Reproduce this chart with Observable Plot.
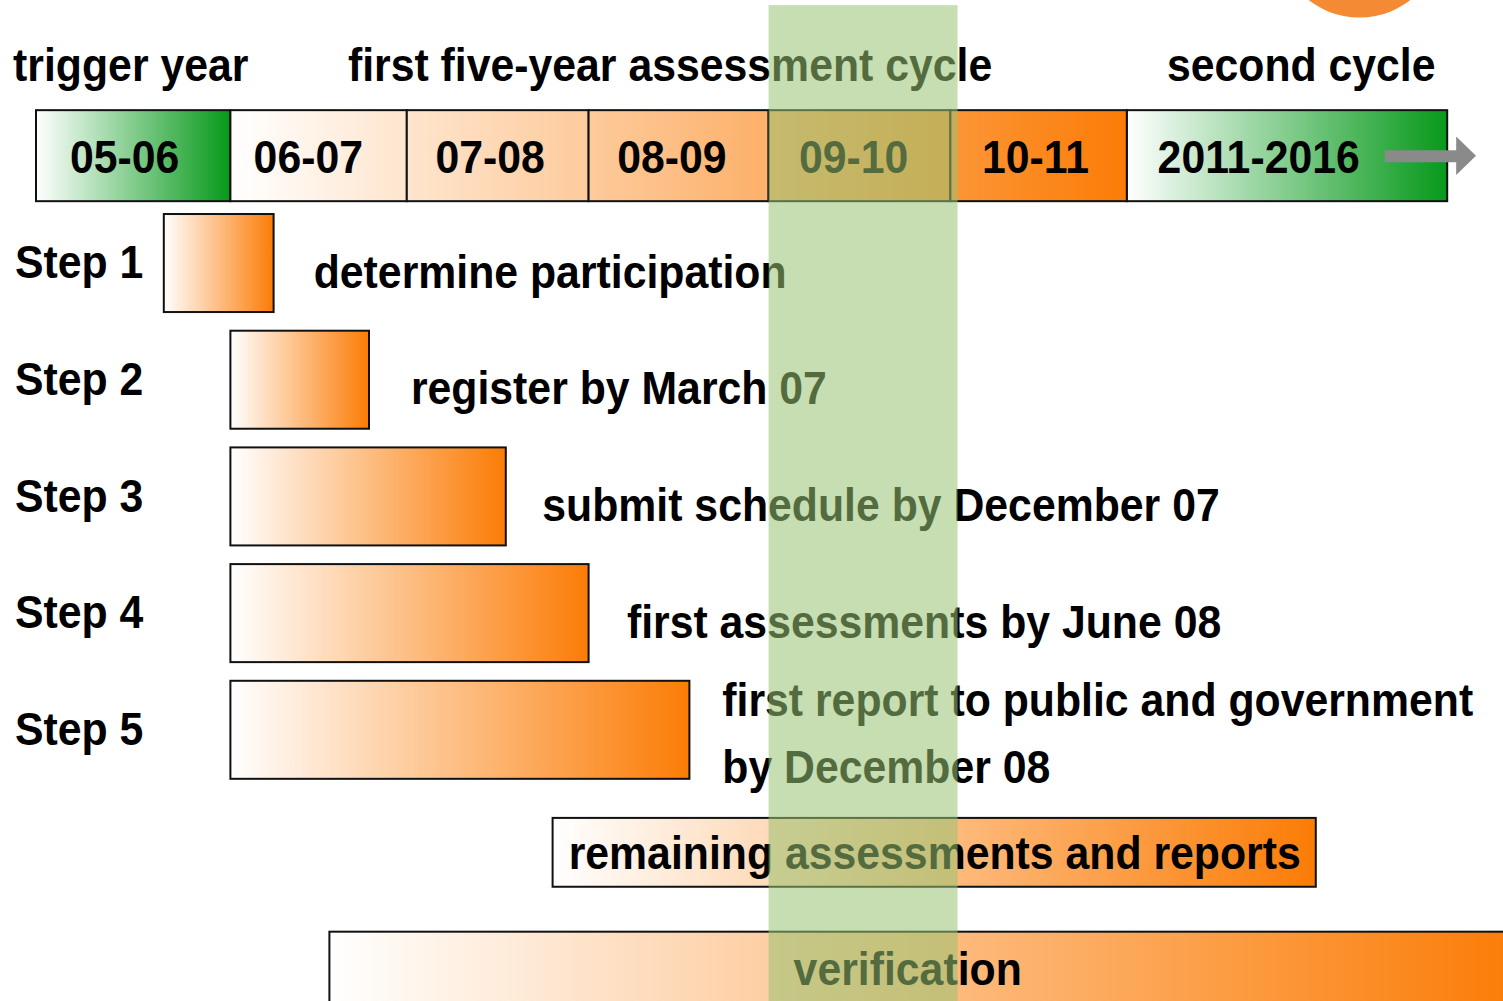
<!DOCTYPE html>
<html>
<head>
<meta charset="utf-8">
<script src="https://cdn.jsdelivr.net/npm/d3@7"></script>
<script src="https://cdn.jsdelivr.net/npm/@observablehq/plot@0.6"></script>
<style>
  html, body { margin: 0; padding: 0; background: #fff; overflow: hidden; }
  #chart svg { display: block; }
</style>
</head>
<body>
<div id="chart"></div>
<script>
// ---------- data (time in fractional years, rows in row units) ----------
const periods       = ["05-06", "06-07", "07-08", "08-09", "09-10", "10-11", "2011-2016"];
const periodStart   = [2005.00, 2006.08, 2007.06, 2008.07, 2009.07, 2010.08, 2011.06];
const periodEnd     = [2006.08, 2007.06, 2008.07, 2009.07, 2010.08, 2011.06, 2012.84];
const periodLabelAt = [2005.49, 2006.51, 2007.52, 2008.53, 2009.54, 2010.55, 2011.79];
const periodKind    = ["trigger", "cycle", "cycle", "cycle", "cycle", "cycle", "second"];

const cycleTitles  = ["trigger year", "first five-year assessment cycle", "second cycle"];
const cycleTitleAt = [2004.87, 2006.73, 2011.28];

const steps      = ["Step 1", "Step 2", "Step 3", "Step 4", "Step 5"];
const stepStart  = [2005.71, 2006.08, 2006.08, 2006.08, 2006.08];
const stepEnd    = [2006.32, 2006.85, 2007.61, 2008.07, 2008.63];
const stepTasks  = [
  "determine participation",
  "register by March 07",
  "submit schedule by December 07",
  "first assessments by June 08",
  "first report to public and government\nby December 08"
];
const taskAt     = [2006.54, 2007.08, 2007.81, 2008.28, 2008.81];

const ongoing      = ["remaining assessments and reports", "verification"];
const ongoingStart = [2007.87, 2006.63];
const ongoingEnd   = [2012.11, 2013.25];

const currentYear = [2009.07, 2010.12];   // highlighted band (09-10)
const nextArrow   = [2012.49, 2012.89, 2013.00]; // shaft start, head start, tip

// ---------- layout rows (row units) ----------
const ROW = {title: -0.69, period: 0.08, ongoing: [6.05, 7.12], ongoingText: [6.06, 7.06], band: [-1.21, 7.5], sun: -1.81};

const periodData = periods.map((p, i) => ({label: p, x1: periodStart[i], x2: periodEnd[i], at: periodLabelAt[i], kind: periodKind[i]}));
const titleData  = cycleTitles.map((t, i) => ({label: t, x: cycleTitleAt[i]}));
const stepData   = steps.map((s, i) => ({label: s, row: i + 1, x1: stepStart[i], x2: stepEnd[i], task: stepTasks[i], at: taskAt[i]}));
const ongoingData = ongoing.map((o, i) => ({label: o, row: ROW.ongoing[i], textRow: ROW.ongoingText[i], x1: ongoingStart[i], x2: ongoingEnd[i], half: i === 0 ? 0.295 : 0.39}));

const FONT = "'Liberation Sans', Arial, Helvetica, sans-serif";
const FS = 46;

const chart = Plot.plot({
  width: 1503,
  height: 1001,
  margin: 0,
  style: {background: "white", fontFamily: FONT},
  x: {domain: [2004.8, 2013.15], range: [0, 1503], axis: null},
  y: {domain: [-1.254, 7.324], range: [0, 1001], axis: null},
  marks: [
    // sun
    Plot.dot([0], {x: () => 2012.35, y: () => ROW.sun, r: 82, fill: "#f58a35", stroke: "none"}),
    // period row
    Plot.rect(periodData.filter(d => d.kind !== "cycle"), {x1: "x1", x2: "x2", y1: ROW.period - 0.39, y2: ROW.period + 0.39, fill: "url(#gGreen)", stroke: "#111", strokeWidth: 2}),
    Plot.rect(periodData.filter(d => d.kind === "cycle"), {x1: "x1", x2: "x2", y1: ROW.period - 0.39, y2: ROW.period + 0.39, fill: "url(#gCycle)", stroke: "#111", strokeWidth: 2}),
    // steps
    Plot.rect(stepData, {x1: "x1", x2: "x2", y1: d => d.row - 0.42, y2: d => d.row + 0.42, fill: "url(#gOrange)", stroke: "#111", strokeWidth: 2}),
    // ongoing
    Plot.rect(ongoingData, {x1: "x1", x2: "x2", y1: d => d.row - d.half, y2: d => d.row + d.half, fill: "url(#gOrange)", stroke: "#111", strokeWidth: 2}),
    // arrow
    Plot.link([0], {x1: () => nextArrow[0], x2: () => nextArrow[1] + 0.01, y1: () => ROW.period, y2: () => ROW.period, stroke: "#8a8a8a", strokeWidth: 12, strokeLinecap: "butt"}),
    Plot.areaY([{x: nextArrow[1], lo: ROW.period - 0.165, hi: ROW.period + 0.165}, {x: nextArrow[2], lo: ROW.period, hi: ROW.period}],
      {x: "x", y1: "lo", y2: "hi", fill: "#8a8a8a"}),
    // texts
    Plot.text(titleData, {x: "x", y: () => ROW.title, text: "label", textAnchor: "start", fontSize: FS, fontWeight: "bold", fill: "#000"}),
    Plot.text(periodData, {x: "at", y: () => ROW.period + 0.02, text: "label", textAnchor: "middle", fontSize: FS, fontWeight: "bold", fill: "#000"}),
    Plot.text(stepData, {x: () => 2004.88, y: "row", text: "label", textAnchor: "start", fontSize: FS, fontWeight: "bold", fill: "#000"}),
    Plot.text(stepData, {x: "at", y: d => d.row + (d.task.includes("\n") ? -0.02 : 0.025), text: "task", textAnchor: "start", lineHeight: 1.45, fontSize: FS, fontWeight: "bold", fill: "#000"}),
    Plot.text(ongoingData, {x: d => d.label === "verification" ? 2009.84 : (d.x1 + d.x2) / 2, y: "textRow", text: "label", textAnchor: "middle", fontSize: FS, fontWeight: "bold", fill: "#000"}),
    // highlight band
    Plot.rect([0], {x1: () => currentYear[0], x2: () => currentYear[1], y1: () => ROW.band[0], y2: () => ROW.band[1], fill: "#97c373", fillOpacity: 0.55})
  ]
});

// gradients
const xs = chart.scale("x");
const sel = d3.select(chart);
const defs = sel.insert("defs", ":first-child");
function grad(id, from, to, user) {
  const g = defs.append("linearGradient").attr("id", id);
  if (user) {
    g.attr("gradientUnits", "userSpaceOnUse").attr("x1", user[0]).attr("x2", user[1]).attr("y1", 0).attr("y2", 0);
  } else {
    g.attr("x1", 0).attr("x2", 1).attr("y1", 0).attr("y2", 0);
  }
  g.append("stop").attr("offset", 0).attr("stop-color", from);
  g.append("stop").attr("offset", 1).attr("stop-color", to);
}
grad("gGreen", "#ffffff", "#07991b");
grad("gOrange", "#ffffff", "#fb7c06");
grad("gCycle", "#ffffff", "#fb7c06", [xs.apply(periodStart[1]), xs.apply(periodEnd[5])]);

// condense lettering horizontally
sel.selectAll("text").each(function () {
  const t = this.getAttribute("transform");
  if (t) {
    this.setAttribute("transform", t + " scale(0.93,1)");
  } else {
    const x = +this.getAttribute("x") || 0, y = +this.getAttribute("y") || 0;
    this.removeAttribute("x"); this.removeAttribute("y");
    this.setAttribute("transform", `translate(${x},${y}) scale(0.93,1)`);
  }
});

document.getElementById("chart").appendChild(chart);
</script>
</body>
</html>
